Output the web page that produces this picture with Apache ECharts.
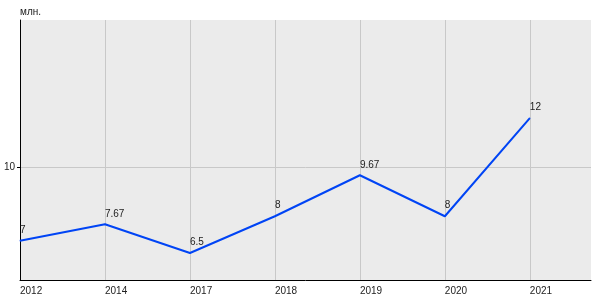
<!DOCTYPE html>
<html>
<head>
<meta charset="utf-8">
<script src="https://cdn.jsdelivr.net/npm/echarts@6/dist/echarts.min.js"></script>
<style>html,body{margin:0;padding:0;background:#fff;}#c{width:600px;height:300px;}</style>
</head>
<body>
<div id="c"></div>
<script>
var years = ['2012', '2014', '2017', '2018', '2019', '2020', '2021'];
var values = [7, 7.67, 6.5, 8, 9.67, 8, 12];
var yTicks = [10];
var unitName = 'млн.';

var chart = echarts.init(document.getElementById('c'), null, {renderer: 'canvas'});
var idx = years.map(function (y, i) { return i; });
chart.setOption({
  animation: false,
  grid: {left: 20, right: 9, top: 20, bottom: 20, show: true, backgroundColor: '#ebebeb', borderWidth: 0},
  xAxis: {
    type: 'value', min: 0, max: 6.72,
    axisLine: {show: true, lineStyle: {color: '#000', width: 1}},
    axisTick: {show: false, customValues: idx},
    axisLabel: {customValues: idx, align: 'left', margin: 6, fontSize: 10, color: '#222', fontFamily: 'Liberation Sans',
      formatter: function (v) { return years[Math.round(v)] || ''; }},
    splitLine: {show: true, lineStyle: {color: '#c8c8c8', width: 1}}
  },
  yAxis: {
    type: 'value', min: 5.4, max: 16,
    name: unitName, nameLocation: 'end', nameGap: 3,
    nameTextStyle: {align: 'left', fontSize: 10, color: '#222', fontFamily: 'Liberation Sans'},
    axisLine: {show: true, lineStyle: {color: '#000', width: 1}},
    axisTick: {show: true, length: 3, customValues: yTicks, lineStyle: {color: '#000'}},
    axisLabel: {customValues: yTicks, margin: 5, fontSize: 10, color: '#222', fontFamily: 'Liberation Sans'},
    splitLine: {show: true, lineStyle: {color: '#c8c8c8', width: 1}}
  },
  series: [{
    type: 'line',
    data: values.map(function (v, i) { return [i, v]; }),
    symbol: 'circle', symbolSize: 1,
    itemStyle: {color: '#0044f5'},
    lineStyle: {color: '#0044f5', width: 2},
    label: {show: true, position: 'top', align: 'left', distance: 5, fontSize: 10, color: '#222', fontFamily: 'Liberation Sans'}
  }]
});
</script>
</body>
</html>
